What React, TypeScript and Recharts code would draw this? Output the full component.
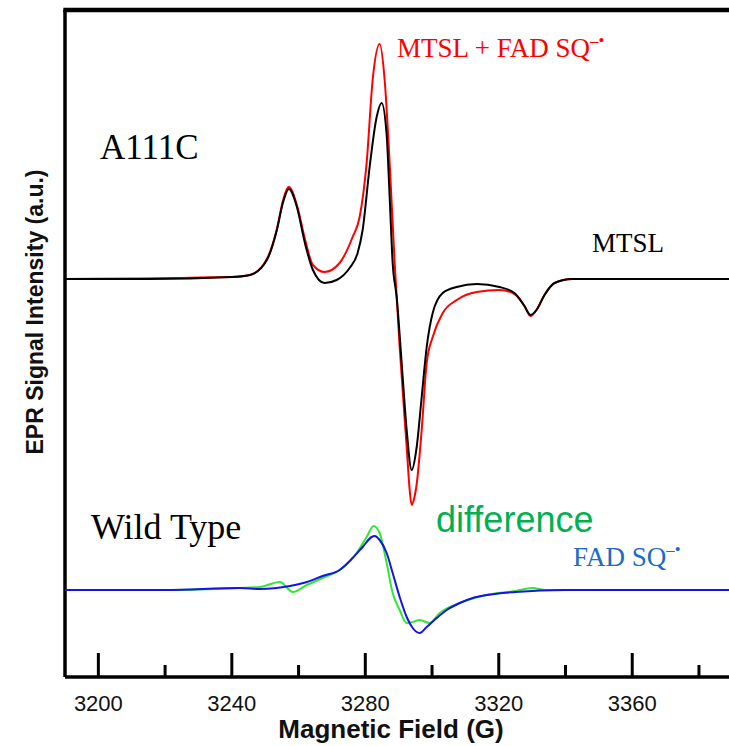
import React from 'react';
import { LineChart, Line, XAxis, YAxis, ReferenceLine } from 'recharts';

// spectra: [field (G), signal (a.u.)]
const mtsl: [number, number][] = [
  [3190, 0], [3215, 0], [3240, 2], [3245.4, 4], [3250.5, 19], [3253.5, 49], [3255.3, 76],
  [3257.1, 90], [3259.5, 72], [3261.9, 36], [3264.3, 9], [3267.8, -4], [3271.4, -1],
  [3275.3, 11], [3277.7, 26], [3279.2, 49], [3281.3, 112], [3283.4, 162], [3284.9, 176],
  [3286.4, 144], [3287.3, 82], [3288.2, 16], [3289.4, -18], [3290.9, -84], [3292.4, -151],
  [3293.9, -191], [3295.4, -168], [3296.9, -118], [3298.4, -68], [3300.2, -34], [3303.2, -14],
  [3307.4, -8], [3313.4, -5], [3320.2, -8], [3324.7, -14], [3327.7, -27], [3329.5, -36],
  [3331.3, -31], [3333.7, -16], [3336.7, -4], [3342, 0], [3389, 0],
];

const mtslFad: [number, number][] = [
  [3190, 0], [3240, 2], [3245.4, 4], [3250.5, 20], [3253.5, 50], [3255.3, 78], [3257.1, 92],
  [3259.5, 74], [3261.9, 40], [3264.3, 14], [3267.8, 7], [3272.3, 16], [3276.2, 42],
  [3278.3, 62], [3280.4, 116], [3282.2, 199], [3284.3, 235], [3285.8, 199], [3287.3, 116],
  [3288.8, 16], [3290.3, -68], [3292.4, -168], [3293.3, -211], [3293.9, -226], [3294.6, -220],
  [3295.4, -205], [3296.9, -151], [3298.4, -84], [3300.2, -58], [3303.2, -34], [3307.4, -21],
  [3313.4, -13], [3320.2, -11], [3324.7, -15], [3327.7, -27], [3329.5, -37], [3331.3, -31],
  [3333.7, -16], [3336.7, -4], [3342, 0], [3389, 0],
];

const difference: [number, number][] = [
  [3190, 0], [3220, 0], [3242.4, 2], [3248.4, 3], [3254.4, 8], [3258.3, -2], [3262.5, 5],
  [3267.2, 12], [3272.3, 20], [3277.4, 37], [3280.4, 53], [3282.5, 64], [3284.3, 57],
  [3286.4, 27], [3288.2, -3], [3290.3, -20], [3292.4, -33], [3294.2, -32], [3296.3, -30],
  [3299.3, -33], [3302.3, -23], [3308.3, -13], [3316.4, -5], [3325, -1], [3330, 2],
  [3334, 0], [3389, 0],
];

const fadSq: [number, number][] = [
  [3190, 0], [3220, 0], [3242.4, 2], [3248.4, 1], [3257.4, 4], [3262.5, 8], [3267.2, 14],
  [3272.3, 20], [3276.2, 32], [3279.2, 43], [3281.9, 53], [3282.8, 54], [3284.3, 50],
  [3286.4, 37], [3288.2, 17], [3290.3, -7], [3292.4, -27], [3294.2, -38], [3296.3, -43],
  [3298.4, -37], [3301.4, -28], [3304.4, -20], [3308.3, -13], [3312.2, -8], [3316.4, -5],
  [3325, -2], [3340, 0], [3389, 0],
];

const fieldTicks = [3200, 3220, 3240, 3260, 3280, 3300, 3320, 3340, 3360, 3380];

// vertical offsets of the two groups of spectra
const A111C_OFFSET = 398;
const WT_OFFSET = 87;

const toSeries = (pts: [number, number][], offset: number) =>
  pts.map(([field, s]) => ({ field, value: s + offset }));

const SANS = 'Liberation Sans, Arial, sans-serif';
const SERIF = 'Liberation Serif, Times New Roman, serif';

const FieldTick = (props: any) => {
  const { x, y, payload } = props;
  const major = (payload.value - 3200) % 40 === 0;
  return (
    <g>
      <line x1={x} x2={x} y1={y} y2={y - (major ? 24 : 12)} stroke="#000" strokeWidth={3} />
      {major && (
        <text x={x} y={y + 34} textAnchor="middle" fontFamily={SANS} fontSize={22} fill="#111">
          {payload.value}
        </text>
      )}
    </g>
  );
};

const Radical = ({ size }: { size: number }) => (
  <tspan dy={-size * 0.42} fontSize={size * 0.62}>
    {'\u2013\u2022'}
  </tspan>
);

export default function App() {
  return (
    <div style={{ position: 'absolute', left: 0, top: 0, width: 729, height: 746, background: '#fff' }}>
      <LineChart width={729} height={746} margin={{ top: 10, right: 0, bottom: 0, left: 65 }}>
        <XAxis
          dataKey="field"
          type="number"
          domain={[3190, 3389]}
          allowDataOverflow
          ticks={fieldTicks}
          interval={0}
          tick={<FieldTick />}
          tickLine={false}
          tickSize={0}
          tickMargin={0}
          height={69}
          axisLine={{ stroke: '#000', strokeWidth: 3.5 }}
        />
        <YAxis hide type="number" domain={[0, 667]} allowDataOverflow />
        <ReferenceLine
          segment={[{ x: 3189.5, y: 667 }, { x: 3389, y: 667 }]}
          stroke="#000"
          strokeWidth={4.5}
          ifOverflow="visible"
        />
        <ReferenceLine x={3190} stroke="#000" strokeWidth={3.5} ifOverflow="visible" />

        <Line data={toSeries(mtslFad, A111C_OFFSET)} dataKey="value" type="monotone" stroke="#ff0000" strokeWidth={2} dot={false} isAnimationActive={false} />
        <Line data={toSeries(mtsl, A111C_OFFSET)} dataKey="value" type="monotone" stroke="#000000" strokeWidth={2} dot={false} isAnimationActive={false} />
        <Line data={toSeries(difference, WT_OFFSET)} dataKey="value" type="monotone" stroke="#33e633" strokeWidth={2} dot={false} isAnimationActive={false} />
        <Line data={toSeries(fadSq, WT_OFFSET)} dataKey="value" type="monotone" stroke="#1414e6" strokeWidth={2} dot={false} isAnimationActive={false} />

        <text x={391} y={738} textAnchor="middle" fontFamily={SANS} fontWeight="bold" fontSize={26} fill="#111">
          Magnetic Field (G)
        </text>
        <text
          x={43}
          y={312}
          transform="rotate(-90 43 312)"
          textAnchor="middle"
          fontFamily={SANS}
          fontWeight="bold"
          fontSize={23}
          fill="#111"
        >
          EPR Signal Intensity (a.u.)
        </text>

        <text x={397} y={57} fontFamily={SERIF} fontSize={27} fill="#ff0000">
          MTSL + FAD SQ<Radical size={27} />
        </text>
        <text x={100} y={159} fontFamily={SERIF} fontSize={35} fill="#000">
          A111C
        </text>
        <text x={592} y={252} fontFamily={SERIF} fontSize={27} fill="#000">
          MTSL
        </text>
        <text x={91} y={539} fontFamily={SERIF} fontSize={36} fill="#000">
          Wild Type
        </text>
        <text x={436} y={532} fontFamily={SANS} fontSize={36} fill="#00b050">
          difference
        </text>
        <text x={573} y={566} fontFamily={SERIF} fontSize={27} fill="#1a6cc4">
          FAD SQ<Radical size={27} />
        </text>
      </LineChart>
    </div>
  );
}
